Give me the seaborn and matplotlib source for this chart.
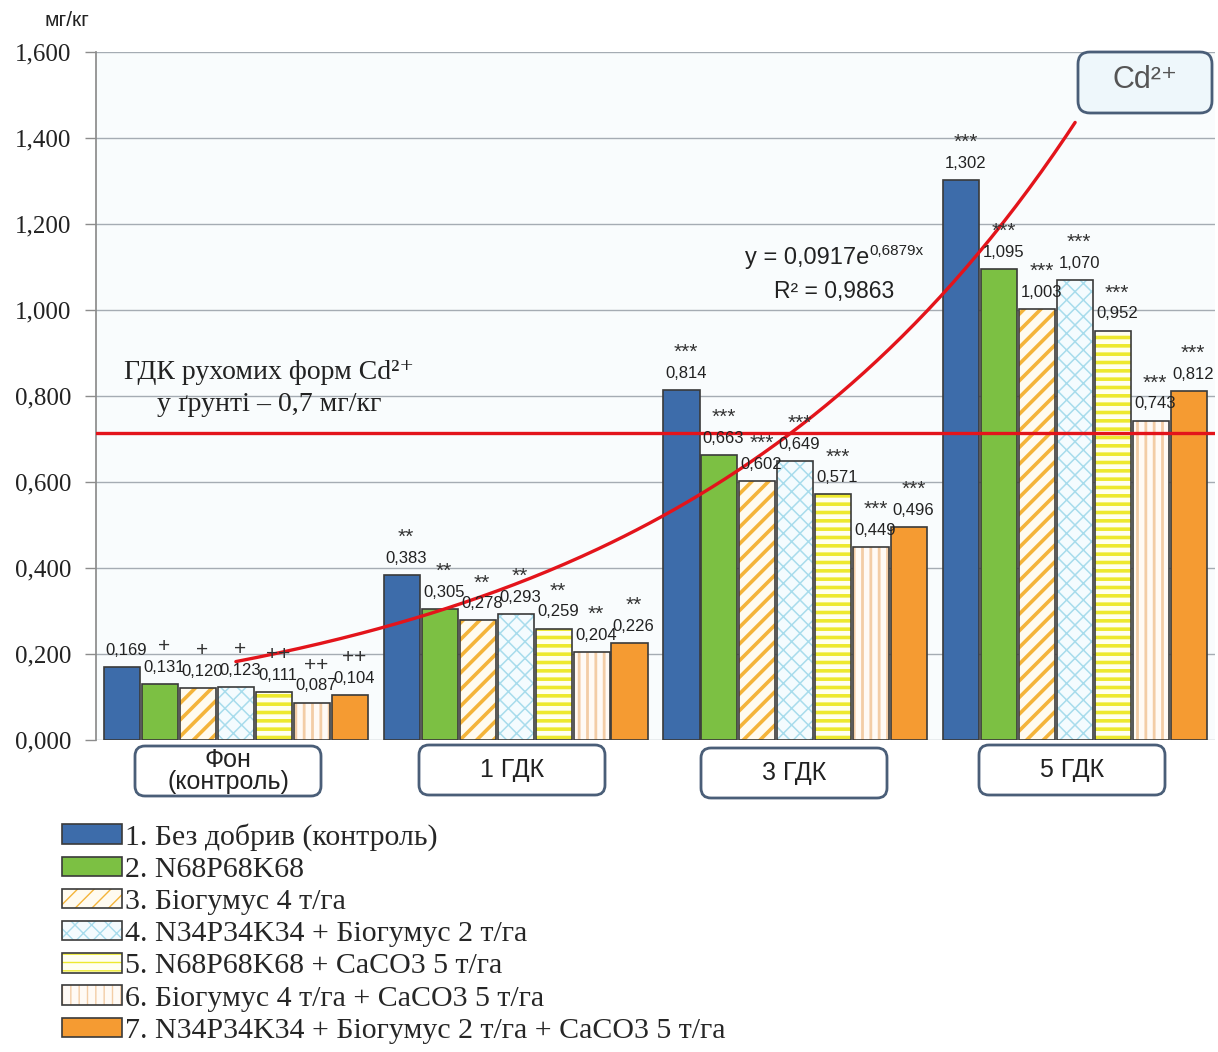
import numpy as np
import pandas as pd
import matplotlib
matplotlib.use('Agg')
import matplotlib.pyplot as plt
import matplotlib.colors as mcolors
import seaborn as sns
from matplotlib.patches import Rectangle, FancyBboxPatch
from matplotlib.transforms import IdentityTransform

# ---------------- data ----------------
groups = ['Фон\n(контроль)', '1 ГДК', '3 ГДК', '5 ГДК']
variants = [
    '1. Без добрив (контроль)',
    '2. N68P68K68',
    '3. Біогумус 4 т/га',
    '4. N34P34K34 + Біогумус 2 т/га',
    '5. N68P68K68 + CaCO3 5 т/га',
    '6. Біогумус 4 т/га + CaCO3 5 т/га',
    '7. N34P34K34 + Біогумус 2 т/га + CaCO3 5 т/га',
]

fon = [0.169, 0.131, 0.120, 0.123, 0.111, 0.087, 0.104]
gdk1 = [0.383, 0.305, 0.278, 0.293, 0.259, 0.204, 0.226]
gdk3 = [0.814, 0.663, 0.602, 0.649, 0.571, 0.449, 0.496]
gdk5 = [1.302, 1.095, 1.003, 1.070, 0.952, 0.743, 0.812]

marks_fon = ['', '+', '+', '+', '++', '++', '++']
marks_gdk1 = ['**'] * 7
marks_gdk3 = ['***'] * 7
marks_gdk5 = ['***'] * 7

gdk_level = 0.715   # red limit line as drawn in the chart
y_ticks = [0.0, 0.2, 0.4, 0.6, 0.8, 1.0, 1.2, 1.4, 1.6]

# ---------------- styles ----------------
face_colors = ['#3D6CAA', '#7CC043', '#FFFBF0', '#F4FBFE', '#FFFFF0', '#FFFAF5', '#F59B32']
hatches = [None, None, '//', 'xx', '--', '||', None]
hatch_colors = ['#3D6CAA', '#7CC043', '#F4B43A', '#A8DCEC', '#EDE92E', '#F3CDA6', '#F59B32']
hatch_widths = [1, 1, 2.6, 1.1, 2.6, 2.0, 1]
edge = '#3A3A3A'

W, H = 1218, 1052
sns.set_theme(style='white')
plt.rcParams['font.family'] = ['Liberation Sans', 'DejaVu Sans']
SANS = ['Liberation Sans', 'DejaVu Sans']
SERIF = ['Liberation Serif', 'DejaVu Serif']

df = pd.DataFrame({
    'group': np.repeat(groups, len(variants)),
    'variant': variants * len(groups),
    'value': fon + gdk1 + gdk3 + gdk5,
})
marks = [marks_fon, marks_gdk1, marks_gdk3, marks_gdk5]
series = [fon, gdk1, gdk3, gdk5]

fig = plt.figure(figsize=(W / 100, H / 100), dpi=100)
ax = fig.add_axes([96 / W, 1 - 740 / H, (1215 - 96) / W, (740 - 52) / H])
ax.set_facecolor('#F9FCFD')

sns.barplot(data=df, x='group', y='value', hue='variant', order=groups,
            hue_order=variants, palette=face_colors, saturation=1,
            width=0.95, gap=0.05, edgecolor=edge, linewidth=1.2,
            legend=False, ax=ax, zorder=3)


def style_patch(p, i, hw=None):
    p.set_facecolor(face_colors[i])
    p.set_edgecolor(edge)
    if hatches[i]:
        p.set_hatch(hatches[i])
        # hatch colour separate from the outline
        p._hatch_color = mcolors.to_rgba(hatch_colors[i])
        if hasattr(p, 'set_hatch_linewidth'):
            p.set_hatch_linewidth(hw if hw is not None else hatch_widths[i])


for i, cont in enumerate(ax.containers):
    for g, bar in enumerate(cont):
        style_patch(bar, i)
        v = series[g][i]
        xc = bar.get_x() + bar.get_width() / 2
        ax.annotate(f'{v:.3f}'.replace('.', ','), (xc, v), xytext=(3, 12),
                    textcoords='offset points', ha='center', va='center',
                    fontsize=12, family=SANS, color='#222222', zorder=6)
        if marks[g][i]:
            ax.annotate(marks[g][i], (xc, v), xytext=(3, 27),
                        textcoords='offset points', ha='center', va='center',
                        fontsize=15, family=SANS, color='#333333', zorder=6)

# exponential trend fitted to the control variant
ctrl = np.array([s[0] for s in series])
xs = np.arange(1, len(ctrl) + 1)
b, ln_a = np.polyfit(xs, np.log(ctrl), 1)
xx = np.linspace(1, len(ctrl), 200)
ax.plot(xx - 1, np.exp(ln_a) * np.exp(b * xx), color='#E3141B', lw=2.4, zorder=5)

ax.axhline(gdk_level, color='#E3141B', lw=2.4, zorder=5)

ax.text(0.12, 0.855, 'ГДК рухомих форм Cd²⁺', ha='center', va='center',
        fontsize=20, family=SERIF, color='#222222', zorder=6)
ax.text(0.12, 0.78, 'у ґрунті – 0,7 мг/кг', ha='center', va='center',
        fontsize=20, family=SERIF, color='#222222', zorder=6)

ax.text(2.265, 1.121, f'y = {np.exp(ln_a):.4f}e'.replace('.', ','), ha='right',
        va='center', fontsize=17, color='#222222', zorder=6)
ax.text(2.265, 1.137, f'{b:.4f}x'.replace('.', ','), ha='left', va='center',
        fontsize=11, color='#222222', zorder=6)
ax.text(2.14, 1.042, 'R² = 0,9863', ha='center', va='center',
        fontsize=16.5, color='#222222', zorder=6)

ax.set_ylim(0, 1.6)
ax.set_xlim(-0.5, 3.5)
ax.set_yticks(y_ticks, labels=[f'{t:.3f}'.replace('.', ',') for t in y_ticks],
              fontsize=18, family=SERIF, color='#222222')
ax.set_xticks([])
ax.set_xlabel('')
ax.set_ylabel('')
ax.grid(axis='y', color='#A5ACB3', lw=1, zorder=0)
for s in ['top', 'right', 'bottom']:
    ax.spines[s].set_visible(False)
ax.spines['left'].set_color('#8C8C8C')
ax.tick_params(axis='y', length=8, width=1, color='#8C8C8C', left=True, pad=10)

fig.text(67 / W, 1 - 20 / H, 'мг/кг', ha='center', va='center', fontsize=15,
         family=SANS, color='#222222')

# category boxes
box_centers = [(228, 771), (512, 770), (794, 773), (1072, 770)]
for (cx, cy), lbl in zip(box_centers, groups):
    bw, bh = 186, 50
    p = FancyBboxPatch((cx - bw / 2, H - cy - bh / 2), bw, bh,
                       boxstyle='round,pad=0,rounding_size=10',
                       transform=IdentityTransform(), facecolor='white',
                       edgecolor='#4A5E78', lw=2)
    fig.add_artist(p)
    fig.text(cx / W, 1 - cy / H, lbl, ha='center', va='center', fontsize=18,
             family=SANS, color='#222222', linespacing=0.9)

# Cd2+ box
cp = FancyBboxPatch((1078, H - 113), 134, 61, boxstyle='round,pad=0,rounding_size=12',
                    transform=IdentityTransform(), facecolor='#EEF7FB',
                    edgecolor='#4A5E78', lw=2, zorder=10)
fig.add_artist(cp)
fig.text(1145 / W, 1 - 80 / H, 'Cd²⁺', ha='center', va='center', fontsize=22,
         color='#555555', zorder=11)

# legend
handles = []
for i in range(len(variants)):
    r = Rectangle((0, 0), 1, 1, lw=1.2)
    style_patch(r, i, hw=min(hatch_widths[i], 2.0))
    handles.append(r)
fig.legend(handles, variants, loc='upper left', bbox_to_anchor=(50 / W, 1 - 811 / H),
           frameon=False, prop={'family': SERIF, 'size': 21.5}, handlelength=2.0,
           handleheight=0.62, handletextpad=0.1, labelspacing=0.2, borderaxespad=0)

plt.savefig('out.png', dpi=100)
